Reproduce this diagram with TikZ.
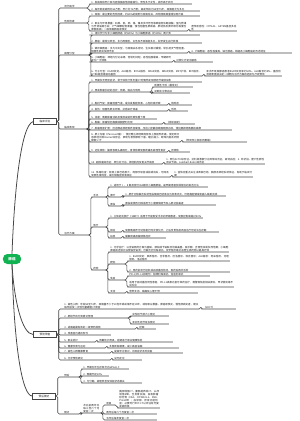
\documentclass[tikz,border=0pt]{standalone}
\usepackage{fontspec}
\setmainfont{Noto Sans CJK SC}
\usepackage{tikz}
\XeTeXlinebreaklocale "zh"
\XeTeXlinebreakskip=0pt plus 1pt
\definecolor{mapgreen}{RGB}{16,178,82}
\definecolor{linec}{RGB}{70,70,70}
\definecolor{textc}{RGB}{30,30,30}
\newcommand\mapfont{\fontsize{3.6}{4.3}\selectfont}
\tikzset{
  rootnode/.style={fill=mapgreen,text=white,rounded corners=2.2mm,minimum width=9mm,
    minimum height=5mm,inner sep=0.5pt,font=\fontsize{5}{6}\selectfont\bfseries},
  topicbox/.style={draw=linec,fill=white,line width=0.7pt,minimum width=11.5mm,
    minimum height=2.8mm,inner sep=0.3pt,font=\fontsize{3.8}{4.5}\selectfont,text=textc},
  subnode/.style={anchor=south west,inner xsep=0.4pt,inner ysep=0.4pt,align=left,
    font=\mapfont,text=textc},
  branchline/.style={draw=linec,line width=0.75pt,rounded corners=0.8mm},
  trunkline/.style={draw=linec,line width=1.1pt}
}
% parent anchor, name, position, width, text
\newcommand\twig[5]{%
  \node[subnode,text width=#4] (#2) at (#3) {#5};
  \draw[branchline] (#1) -- ++(2,0) |- (#2.south west) -- (#2.south east);}

\begin{document}
\begin{tikzpicture}[x=0.5mm,y=-0.5mm]
  \useasboundingbox (0,0) rectangle (300,421);

  \node[rootnode] (root) at (12,259) {肺癌};
  \node[topicbox] (b1) at (45,121.5) {临床诊治};
  \node[topicbox] (b2) at (45,334.5) {预防筛查};
  \node[topicbox] (b3) at (44,396) {预后随访};
  \draw[trunkline] (root.north) .. controls (14,200) and (20,125) .. (b1.west);
  \draw[trunkline] (root.south) .. controls (14,300) and (22,334.5) .. (b2.west);
  \draw[trunkline] (root.south) .. controls (14,345) and (22,396) .. (b3.west);

  % clinical branch
  \twig{b1.east}{a1}{64,8}{11mm}{流行病学}
  \twig{a1.south east}{l1}{91,4}{50mm}{1. 发病率和死亡率均居我国恶性肿瘤首位，男性多于女性，城市高于农村}
  \twig{a1.south east}{l2}{91,11}{54mm}{2. 每年新发病例约82万例，死亡约71万例，高发年龄为55至75岁，吸烟者尤为多见}

  \twig{b1.east}{a2}{64,23}{11mm}{危险因素}
  \twig{a2.south east}{l3}{91,16}{54mm}{1. 吸烟：最主要的危险因素，约85\%的病例与吸烟有关，风险随吸烟量增加而升高}
  \twig{a2.south east}{l4}{91,31}{47.5mm}{2. 职业与环境暴露：石棉、氡、砷、铬、镍及多环芳烃等致癌物长期接触；室内燃煤与烹调油烟污染；大气细颗粒物暴露；慢性阻塞性肺疾病、肺结核及肺纤维化等慢性肺部疾病；一级亲属肺癌家族史}
  \twig{l4.south east}{l4a}{191,31}{22.5mm}{遗传易感性：CYP1A1、GSTM1基因多态性}

  \twig{b1.east}{a3}{64,55}{12mm}{病理分型}
  \twig{a3.south east}{l5}{91,35}{54mm}{1. 组织学分为非小细胞肺癌（约85\%）与小细胞肺癌（约15\%）两大类}
  \twig{a3.south east}{l6}{91,43}{55mm}{2. 腺癌：最常见类型，多为周围型，女性及不吸烟者多见，较早发生血行转移}
  \twig{a3.south east}{l7}{91,53}{47.5mm}{3. 鳞状细胞癌：多为中央型，与吸烟关系密切，生长相对缓慢，常引起支气管阻塞、阻塞性肺炎及肺不张}
  \twig{l7.south east}{l7a}{191,53}{50mm}{4. 大细胞癌：恶性程度高，缺乏腺癌、鳞癌及小细胞癌的形态特征}
  \twig{a3.south east}{l8}{91,62}{40mm}{5. 小细胞癌：神经内分泌来源，倍增时间短，恶性程度最高，早期即可发生广泛转移}
  \twig{l8.south east}{l8a}{176,62}{18mm}{对放化疗初治敏感}
  \twig{a3.south east}{l9}{91,76}{55mm}{6. 分子分型：EGFR突变、ALK融合、ROS1融合、KRAS突变、BRAF突变、MET扩增、RET融合、NTRK融合等驱动基因}
  \twig{l9.south east}{l9a}{206,76}{37.5mm}{亚洲不吸烟腺癌患者EGFR突变率约50\%，ALK融合约5\%，基因检测结果直接决定一线靶向治疗方案的选择与疗效预测}

  \twig{b1.east}{a4}{64,129}{11mm}{临床表现}
  \twig{a4.south east}{m1}{91,82}{55mm}{1. 早期多无明显症状，常于体检行低剂量CT时偶然发现肺结节或肿块影}
  \twig{a4.south east}{m2}{91,92}{29mm}{2. 原发肿瘤引起的症状：咳嗽、咯血与喘鸣}
  \twig{m2.south east}{m2a}{154,87}{19mm}{刺激性干咳（最常见）}
  \twig{m2.south east}{m2b}{154,93}{17.5mm}{间断痰中带血丝}
  \twig{a4.south east}{m3}{91,105}{37.5mm}{3. 胸闷气促：肿瘤阻塞气道，或并发胸腔积液、心包积液所致}
  \twig{m3.south east}{m3a}{171,105}{10mm}{喘鸣音}
  \twig{a4.south east}{m4}{91,111}{37.5mm}{4. 发热：阻塞性肺炎所致，抗感染疗效差}
  \twig{m4.south east}{m4a}{171,111}{8mm}{低热}
  \twig{a4.south east}{m5}{91,119}{32.5mm}{5. 消瘦：晚期肿瘤消耗及食欲减退所致体重下降}
  \twig{a4.south east}{m6}{91,124}{35mm}{6. 胸痛：肿瘤侵犯胸膜或胸壁时出现}
  \twig{m6.south east}{m6a}{166,124}{14mm}{（持续固定）}
  \twig{a4.south east}{m7}{91,130}{70mm}{7. 肿瘤局部扩展：压迫喉返神经致声音嘶哑，压迫上腔静脉致面颈部水肿，侵犯膈神经致膈肌麻痹}
  \twig{a4.south east}{m8}{91,142}{44mm}{8. 肺上沟瘤（Pancoast瘤）：侵犯臂丛神经致肩部及上肢剧烈疼痛，侵犯颈交感神经出现Horner综合征，表现为患侧眼睑下垂、瞳孔缩小、眼球内陷及同侧额部少汗}
  \twig{m8.south east}{m8a}{184,142}{31mm}{（伴同侧上肢肌肉萎缩）}
  \twig{a4.south east}{m9}{91,152}{37.5mm}{9. 远处转移：脑转移致头痛呕吐，骨转移致局部疼痛及病理性骨折}
  \twig{m9.south east}{m9a}{171,152}{9mm}{肝转移}
  \twig{a4.south east}{m10}{91,164}{35mm}{10. 副肿瘤综合征：异位内分泌、神经肌肉及骨关节病变}
  \twig{m10.south east}{m10a}{166,164}{49mm}{1. 异位ACTH综合征、抗利尿激素分泌异常综合征、高钙血症；2. 杵状指、肥大性肺性骨关节病、Lambert-Eaton综合征}
  \twig{a4.south east}{m11}{91,177}{39mm}{11. 体格检查：锁骨上淋巴结肿大，局部呼吸音减弱或消失，可闻及局限性哮鸣音，或出现胸腔积液体征}
  \twig{m11.south east}{m11a}{174,177}{39mm}{1. 查体应重点关注浅表淋巴结、胸部及神经系统体征，有助于临床分期}

  \twig{b1.east}{a5}{64,235}{12mm}{治疗方案}
  \twig{a5.south east}{c1}{93,197}{6mm}{手术}
  \twig{c1.south east}{n1}{110,187}{48.5mm}{1. 适用于Ⅰ、Ⅱ期及部分ⅢA期非小细胞肺癌，是早期患者获得根治的首选方法}
  \twig{c1.south east}{d1}{110,197}{5mm}{肺叶}
  \twig{d1.south east}{n2}{125,196}{50mm}{1. 肺叶切除联合系统性纵隔淋巴结清扫为标准术式，可经胸腔镜或机器人辅助完成}
  \twig{c1.south east}{d2}{110,206}{5mm}{肺段}
  \twig{d2.south east}{n3}{125,205}{45mm}{肺段或楔形切除适用于小磨玻璃结节及心肺功能差者}
  \twig{a5.south east}{c2}{93,227}{6mm}{放疗}
  \twig{c2.south east}{n4}{110,218}{46mm}{1. 立体定向放疗（SBRT）适用于不能耐受手术的早期患者，局部控制率超过90\%}
  \twig{c2.south east}{d3}{110,232}{5mm}{根治}
  \twig{d3.south east}{n5}{125,232}{46.5mm}{局部晚期不可切除者行同步放化疗，之后序贯免疫巩固治疗可延长生存期}
  \twig{c2.south east}{d4}{110,238}{5mm}{姑息}
  \twig{d4.south east}{n6}{125,238}{20mm}{缓解骨痛及脑转移症状}
  \twig{a5.south east}{c3}{93,270}{6mm}{药物}
  \twig{c3.south east}{n7}{110,252}{59mm}{1. 化学治疗：以含铂两药方案为基础，顺铂或卡铂联合培美曲塞、紫杉醇、吉西他滨或多西他赛；小细胞肺癌首选依托泊苷联合铂类；可联合贝伐珠单抗、安罗替尼等抗血管生成药物以提高疗效}
  \twig{c3.south east}{d5}{110,264}{7mm}{靶向}
  \twig{d5.south east}{n8}{129,261}{50mm}{1. EGFR突变：奥希替尼、吉非替尼、厄洛替尼、埃克替尼；ALK融合：阿来替尼、克唑替尼、洛拉替尼}
  \twig{d5.south east}{n9}{129,272}{50mm}{2. 用药前须行组织或血液基因检测，耐药后再次活检}
  \twig{c3.south east}{d6}{110,280}{7mm}{免疫}
  \twig{d6.south east}{n10}{129,276}{40mm}{PD-1/PD-L1抑制剂：帕博利珠单抗、信迪利单抗}
  \twig{d6.south east}{n11}{129,287}{52mm}{适用于驱动基因阴性患者，PD-L1高表达者可单药治疗，需警惕免疫相关肺炎、甲状腺炎等不良反应}
  \twig{c3.south east}{d7}{110,293}{7mm}{支持}
  \twig{d7.south east}{n12}{129,293}{34mm}{营养支持、镇痛及心理干预}

  % prevention branch
  \twig{b2.east}{p1}{64,309}{67mm}{1. 高危人群：年龄50至74岁，吸烟量不少于20包年或戒烟不足15年，或有职业暴露、肺癌家族史、慢性肺病史者，建议每年接受一次低剂量螺旋CT筛查}
  \twig{p1.south east}{p1a}{203,309}{16mm}{（LDCT）}
  \twig{b2.east}{p2}{64,318}{31.5mm}{2. 肺结节的分类随访管理}
  \twig{p2.south east}{p2a}{132,316}{18mm}{实性结节按大小随访}
  \twig{p2.south east}{p2b}{132,324}{18mm}{亚实性结节延长随访}
  \twig{b2.east}{p3}{64,329}{35mm}{3. 戒烟是最有效的一级预防措施}
  \twig{p3.south east}{p3a}{139,329}{8mm}{控烟}
  \twig{b2.east}{p4}{64,335}{23mm}{4. 改善室内通风条件}
  \twig{b2.east}{p5}{64,342}{15mm}{5. 职业防护}
  \twig{p5.south east}{p5a}{99,342}{36.5mm}{佩戴防护用具，定期进行职业健康体检}
  \twig{b2.east}{p6}{64,348}{20mm}{6. 健康饮食与运动}
  \twig{p6.south east}{p6a}{109,348}{34.5mm}{多食新鲜蔬果，减少高温油烟}
  \twig{b2.east}{p7}{64,353}{22.5mm}{7. 高危人群健康教育}
  \twig{p7.south east}{p7a}{114,353}{34mm}{提高早诊意识，出现症状及时就医}
  \twig{b2.east}{p8}{64,360}{22.5mm}{8. 化学预防研究}
  \twig{p8.south east}{p8a}{114,360}{13.5mm}{尚无定论}

  % prognosis branch
  \twig{b3.east}{e1}{64,377}{7mm}{预后}
  \twig{e1.south east}{q1}{83,369}{22.5mm}{1. 早期五年生存率可达60\%以上}
  \twig{e1.south east}{q2}{83,376}{12.5mm}{2. 晚期不足10\%}
  \twig{e1.south east}{q3}{83,383}{29mm}{3. 与分期、病理类型及体能状态相关}
  \twig{b3.east}{e2}{64,414}{7mm}{随访}
  \twig{e2.south east}{f1}{83,413}{8.5mm}{术后前两年内每三至六个月复查一次}
  \twig{f1.south east}{g1}{106,405}{4mm}{项目}
  \twig{g1.south east}{g1a}{119,408}{20mm}{胸部增强CT、腹部超声或CT、头颅增强MRI、全身骨扫描；血清肿瘤标志物（CEA、CYFRA21-1、NSE、ProGRP）；血常规、肝肾功能检查；必要时行PET-CT以评估有无复发或转移}
  \twig{f1.south east}{g2}{106,414}{25mm}{两年后每六个月复查一次}
  \twig{f1.south east}{g3}{106,420}{25mm}{五年后每年复查一次}
\end{tikzpicture}
\end{document}
